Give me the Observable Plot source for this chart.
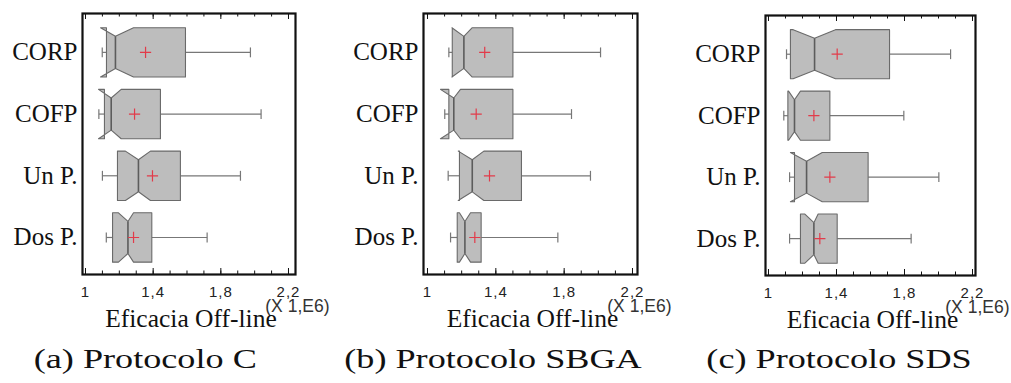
<!DOCTYPE html>
<html>
<head>
<meta charset="utf-8">
<script src="https://cdn.jsdelivr.net/npm/d3@7"></script>
<script src="https://cdn.jsdelivr.net/npm/@observablehq/plot@0.6"></script>
<style>
  html, body { margin: 0; padding: 0; background: #ffffff; }
  #root { position: relative; width: 1011px; height: 383px; overflow: hidden; background: #fff; }
  .panel { position: absolute; top: 0; }
  .panel svg g[aria-label="x-axis tick label"] text { letter-spacing: 1px; }
  .cap { position: absolute; top: 346px; font-family: "Liberation Serif", "Times New Roman", serif; font-size: 27px; line-height: 27px; color: #111; white-space: pre; transform-origin: 50% 50%; }
</style>
</head>
<body>
<div id="root"></div>
<script>
// ---------------- data ----------------
const categories = ["CORP", "COFP", "Un P.", "Dos P."];
const tickValues = [1, 1.4, 1.8, 2.2];
const tickLabels = ["1", "1,4", "1,8", "2,2"];
const minorTicks = [1, 1.1, 1.2, 1.3, 1.4, 1.5, 1.6, 1.7, 1.8, 1.9, 2.0, 2.1, 2.2];
const xTitle = "Eficacia Off-line";
const xUnit = "(X 1,E6)";
const panelTags = ["(a)", "(b)", "(c)"];
const panelCaptions = ["Protocolo C", "Protocolo SBGA", "Protocolo SDS"];

// Panel (a) Protocolo C
const whiskerLowC  = [1.099, 1.079, 1.100, 1.123];
const q1C          = [1.124, 1.112, 1.189, 1.160];
const notchLowC    = [1.089, 1.077, 1.236, 1.195];
const medianC      = [1.177, 1.152, 1.313, 1.251];
const notchHighC   = [1.284, 1.211, 1.384, 1.284];
const q3C          = [1.591, 1.443, 1.561, 1.392];
const whiskerHighC = [1.975, 2.038, 1.916, 1.719];
const meanC        = [1.355, 1.290, 1.396, 1.284];

// Panel (b) Protocolo SBGA
const whiskerLowB  = [1.125, 1.101, 1.121, 1.135];
const q1B          = [1.145, 1.125, 1.187, 1.174];
const notchLowB    = [1.143, 1.076, 1.180, 1.187];
const medianB      = [1.213, 1.154, 1.262, 1.219];
const notchHighB   = [1.262, 1.193, 1.330, 1.252];
const q3B          = [1.500, 1.500, 1.550, 1.314];
const whiskerHighB = [2.013, 1.843, 1.954, 1.763];
const meanB        = [1.335, 1.285, 1.363, 1.277];

// Panel (c) Protocolo SDS
const whiskerLowS  = [1.106, 1.090, 1.124, 1.124];
const q1S          = [1.129, 1.114, 1.153, 1.188];
const notchLowS    = [1.145, 1.118, 1.129, 1.214];
const medianS      = [1.271, 1.153, 1.224, 1.267];
const notchHighS   = [1.394, 1.188, 1.316, 1.292];
const q3S          = [1.712, 1.361, 1.586, 1.404];
const whiskerHighS = [2.071, 1.796, 2.002, 1.839];
const meanS        = [1.404, 1.267, 1.361, 1.302];

// ---------------- layout ----------------
const panels = [
  {left: 0,   ml: 82, mr: 42, mt: 13, mb: 66, xdom: [0.9823, 2.2414], capX: 145,
   s: [whiskerLowC, q1C, notchLowC, medianC, notchHighC, q3C, whiskerHighC, meanC]},
  {left: 337, ml: 86, mr: 37, mt: 13, mb: 66, xdom: [0.9766, 2.2293], capX: 493,
   s: [whiskerLowB, q1B, notchLowB, medianB, notchHighB, q3B, whiskerHighB, meanB]},
  {left: 674, ml: 91, mr: 36, mt: 15, mb: 65, xdom: [0.9824, 2.2176], capX: 839,
   s: [whiskerLowS, q1S, notchLowS, medianS, notchHighS, q3S, whiskerHighS, meanS]}
];

const W = 337, H = 340;
const boxH = 0.40, notchH = 0.26, capH = 0.08;
const serif = "Liberation Serif, Times New Roman, serif";
const root = document.getElementById("root");

panels.forEach((p, k) => {
  const [wLo, q1, nLo, med, nHi, q3, wHi, mean] = p.s;
  const rows = categories.map((c, i) => ({
    cat: c, i, wLo: wLo[i], q1: q1[i], nLo: nLo[i], med: med[i], nHi: nHi[i], q3: q3[i], wHi: wHi[i], mean: mean[i]
  }));
  const poly = rows.flatMap(r => [
    [r.q1, -boxH], [r.nLo, -boxH], [r.med, -notchH], [r.nHi, -boxH], [r.q3, -boxH],
    [r.q3, boxH], [r.nHi, boxH], [r.med, notchH], [r.nLo, boxH], [r.q1, boxH]
  ].map(([x, dy]) => ({key: r.cat, x, y: r.i + dy})));
  const fh = H - p.mt - p.mb; // frame height in px
  const tickRule = (vals, len, where) => Plot.ruleX(vals, {
    x: d => d, stroke: "#111", strokeWidth: 1,
    insetTop: where === "bottom" ? fh - len : 0,
    insetBottom: where === "top" ? fh - len : 0
  });

  const chart = Plot.plot({
    width: W, height: H,
    marginLeft: p.ml, marginRight: p.mr, marginTop: p.mt, marginBottom: p.mb,
    style: {fontFamily: "Liberation Sans, Arial, sans-serif", background: "transparent", overflow: "visible"},
    x: {domain: p.xdom},
    y: {domain: [3.6, -0.63]},
    marks: [
      // whiskers
      Plot.link(rows, {x1: "wLo", x2: "q1", y1: "i", y2: "i", stroke: "#777", strokeWidth: 1.2}),
      Plot.link(rows, {x1: "q3", x2: "wHi", y1: "i", y2: "i", stroke: "#777", strokeWidth: 1.2}),
      Plot.link(rows, {x1: "wLo", x2: "wLo", y1: d => d.i - capH, y2: d => d.i + capH, stroke: "#777", strokeWidth: 1.2}),
      Plot.link(rows, {x1: "wHi", x2: "wHi", y1: d => d.i - capH, y2: d => d.i + capH, stroke: "#777", strokeWidth: 1.2}),
      // notched boxes
      Plot.line(poly, {x: "x", y: "y", z: "key", curve: "linear-closed", fill: "#bdbdbd", stroke: "#6a6a6a", strokeWidth: 1.1}),
      // medians
      Plot.link(rows, {x1: "med", x2: "med", y1: d => d.i - notchH, y2: d => d.i + notchH, stroke: "#5c5c5c", strokeWidth: 1.6}),
      // means
      Plot.dot(rows, {x: "mean", y: "i", symbol: "plus", r: 3.7, stroke: "#e23b4a", strokeWidth: 1.2}),
      // inward ticks
      tickRule(minorTicks, 3.5, "bottom"),
      tickRule(tickValues, 6, "bottom"),
      tickRule(minorTicks, 3.5, "top"),
      tickRule(tickValues, 6, "top"),
      // axes labels
      Plot.axisY(categories.map((c, i) => i), {anchor: "left", tickSize: 0, tickPadding: 5, tickFormat: i => categories[i],
        fontSize: 25, fontFamily: serif, fill: "#111", label: null}),
      Plot.axisX(tickValues, {anchor: "bottom", tickSize: 0, tickPadding: 12, tickFormat: d => tickLabels[tickValues.indexOf(d)],
        fontSize: 15, fill: "#222", label: null}),
      Plot.frame({stroke: "#111", strokeWidth: 2.2}),
      Plot.text([xUnit], {frameAnchor: "bottom-right", text: d => d, textAnchor: "end", dx: 34, dy: 37, fontSize: 17.5, fill: "#333"}),
      Plot.text([xTitle], {frameAnchor: "bottom", text: d => d, dx: 2, dy: 52, fontSize: 25.5, fill: "#111", fontFamily: serif})
    ]
  });
  const holder = document.createElement("div");
  holder.className = "panel";
  holder.style.left = p.left + "px";
  holder.appendChild(chart);
  root.appendChild(holder);

  const cap = document.createElement("div");
  cap.className = "cap";
  cap.textContent = panelTags[k] + " " + panelCaptions[k];
  root.appendChild(cap);
  const w = cap.getBoundingClientRect().width;
  cap.style.left = (p.capX - w / 2) + "px";
  cap.style.transform = "scaleX(1.34)";
});
</script>
</body>
</html>
